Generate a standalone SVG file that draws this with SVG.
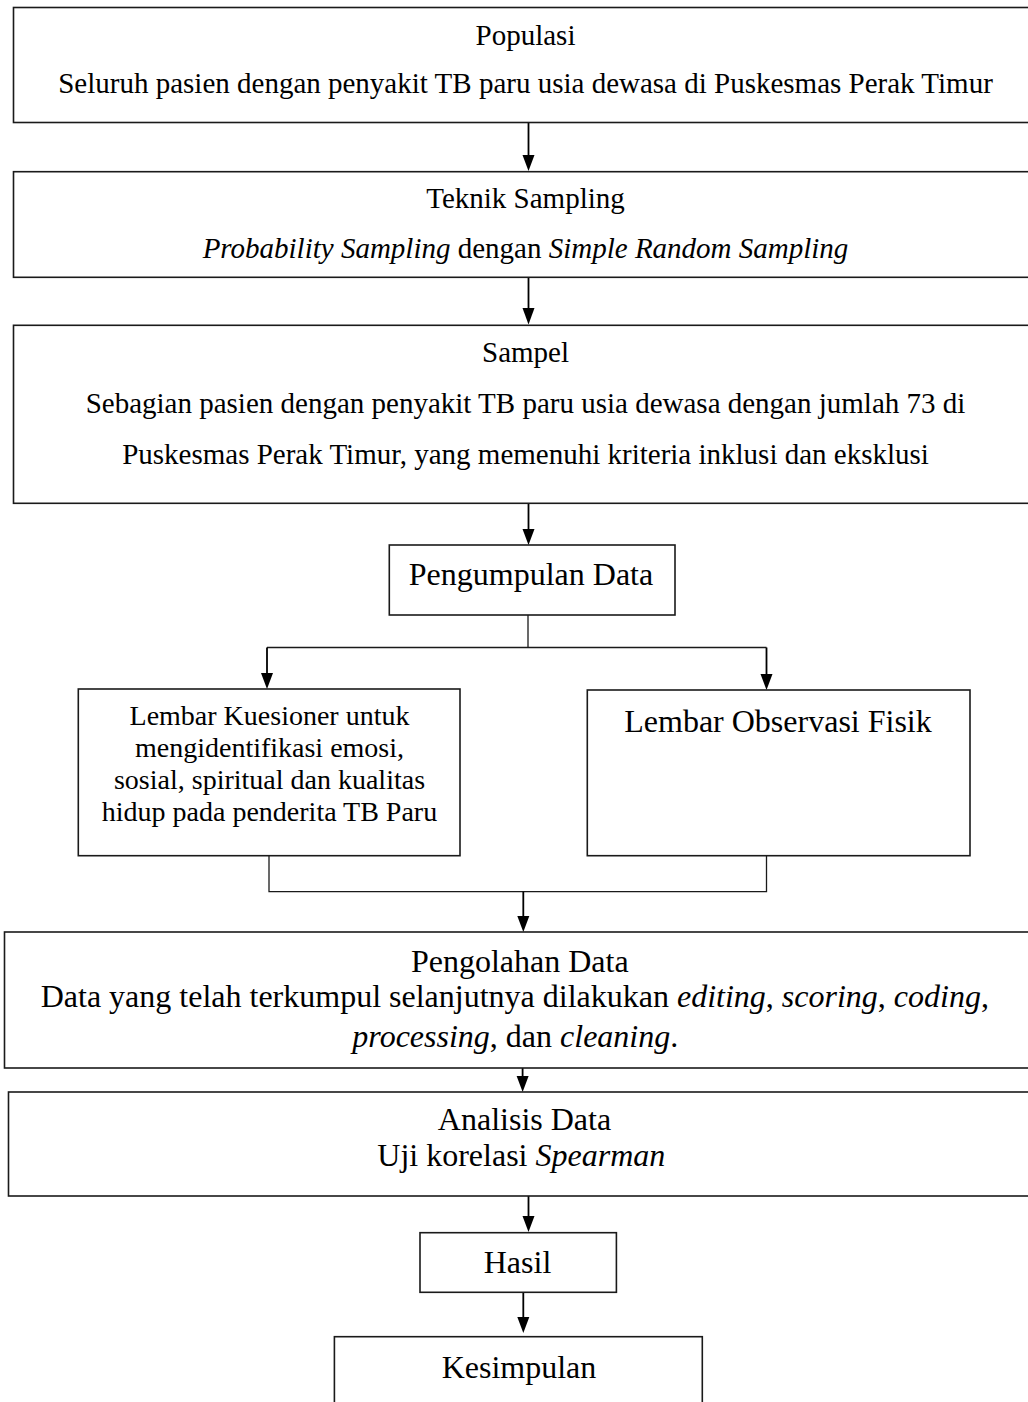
<svg xmlns="http://www.w3.org/2000/svg" width="1028" height="1402" viewBox="0 0 1028 1402">
<defs>
<style>
.box{fill:#fff;stroke:#1a1a1a;stroke-width:1.6}
.t{font-family:"Liberation Serif","Times New Roman",serif;fill:#000;text-anchor:middle}
.s29{font-size:29px}
.s28{font-size:28px}
.s32{font-size:32px}
.i{font-style:italic}
.ln{fill:none;stroke:#000;stroke-width:1.8}
.br{fill:none;stroke:#1a1a1a;stroke-width:1.3}
.hd{fill:#000}
</style>
</defs>
<rect width="1028" height="1402" fill="#fff"/>

<g id="connectors">
<path class="ln" d="M528.5,123 V155"/>
<path class="hd" d="M522.5,155 L534.5,155 L528.5,171 Z"/>
<path class="ln" d="M528.5,278 V308"/>
<path class="hd" d="M522.5,308 L534.5,308 L528.5,324.5 Z"/>
<path class="ln" d="M528.5,504 V529"/>
<path class="hd" d="M522.5,529 L534.5,529 L528.5,545 Z"/>
<path class="br" d="M528,615 V647.5 M267,647.5 H766.5"/>
<path class="ln" d="M267,647.5 V673"/>
<path class="hd" d="M261,673 L273,673 L267,689 Z"/>
<path class="ln" d="M766.5,647.5 V674"/>
<path class="hd" d="M760.5,674 L772.5,674 L766.5,690 Z"/>
<path class="br" d="M269,856 V891.7 H766.5 V856"/>
<path class="ln" d="M523.3,891.7 V916"/>
<path class="hd" d="M517.3,916 L529.3,916 L523.3,932 Z"/>
<path class="ln" d="M522.6,1050 V1076"/>
<path class="hd" d="M516.6,1076 L528.6,1076 L522.6,1092 Z"/>
<path class="ln" d="M528.5,1188 V1216"/>
<path class="hd" d="M522.5,1216 L534.5,1216 L528.5,1232 Z"/>
<path class="ln" d="M523.3,1289 V1317"/>
<path class="hd" d="M517.3,1317 L529.3,1317 L523.3,1333 Z"/>
</g>

<g id="populasi">
<rect class="box" x="13.5" y="7.5" width="1030" height="115"/>
<text class="t s29" x="525.5" y="45">Populasi</text>
<text class="t s29" x="525.5" y="93.3">Seluruh pasien dengan penyakit TB paru usia dewasa di Puskesmas Perak Timur</text>
</g>

<g id="teknik-sampling">
<rect class="box" x="13.5" y="171.7" width="1030" height="105.6"/>
<text class="t s29" x="525.5" y="208.3">Teknik Sampling</text>
<text class="t s29" x="525.5" y="258.3"><tspan class="i">Probability Sampling</tspan> dengan <tspan class="i">Simple Random Sampling</tspan></text>
</g>

<g id="sampel">
<rect class="box" x="13.5" y="325.3" width="1030" height="178"/>
<text class="t s29" x="525.5" y="362.3">Sampel</text>
<text class="t s29" x="525.5" y="413.3">Sebagian pasien dengan penyakit TB paru usia dewasa dengan jumlah 73 di</text>
<text class="t s29" x="525.5" y="464">Puskesmas Perak Timur, yang memenuhi kriteria inklusi dan eksklusi</text>
</g>

<g id="pengumpulan-data">
<rect class="box" x="389.3" y="545" width="285.7" height="70"/>
<text class="t s32" x="531" y="585">Pengumpulan Data</text>
</g>

<g id="lembar-kuesioner">
<rect class="box" x="78.3" y="689" width="381.7" height="166.7"/>
<text class="t s28" x="269.5" y="725">Lembar Kuesioner untuk</text>
<text class="t s28" x="269.5" y="757">mengidentifikasi emosi,</text>
<text class="t s28" x="269.5" y="789">sosial, spiritual dan kualitas</text>
<text class="t s28" x="269.5" y="821">hidup pada penderita TB Paru</text>
</g>

<g id="lembar-observasi">
<rect class="box" x="587.3" y="690" width="382.7" height="165.7"/>
<text class="t s32" x="778" y="731.7">Lembar Observasi Fisik</text>
</g>

<g id="pengolahan-data">
<rect class="box" x="4.5" y="932" width="1040" height="136"/>
<text class="t s32" x="519.8" y="971.7">Pengolahan Data</text>
<text class="t s32" x="514.8" y="1007">Data yang telah terkumpul selanjutnya dilakukan <tspan class="i">editing</tspan>, <tspan class="i">scoring</tspan>, <tspan class="i">coding</tspan>,</text>
<text class="t s32" x="515.3" y="1046.7"><tspan class="i">processing</tspan>, dan <tspan class="i">cleaning</tspan>.</text>
</g>

<g id="analisis-data">
<rect class="box" x="8.5" y="1092" width="1040" height="104"/>
<text class="t s32" x="524.5" y="1130">Analisis Data</text>
<text class="t s32" x="521.3" y="1166">Uji korelasi <tspan class="i">Spearman</tspan></text>
</g>

<g id="hasil">
<rect class="box" x="420" y="1232.7" width="196.4" height="59.6"/>
<text class="t s32" x="517.5" y="1272.7">Hasil</text>
</g>

<g id="kesimpulan">
<rect class="box" x="334.4" y="1336.7" width="367.9" height="100"/>
<text class="t s32" x="519" y="1378">Kesimpulan</text>
</g>
</svg>
